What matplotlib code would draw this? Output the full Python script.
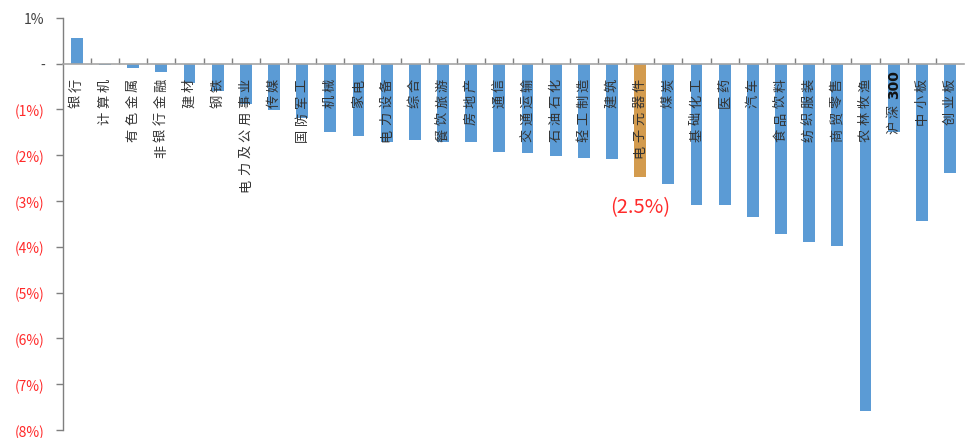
import matplotlib
matplotlib.use("Agg")
import matplotlib.pyplot as plt

plt.rcParams['font.family'] = ['Noto Sans CJK SC', 'DejaVu Sans']

# Weekly returns by industry and index (%)
categories = ["银行", "计算机", "有色金属", "非银行金融", "建材", "钢铁", "电力及公用事业",
              "传媒", "国防军工", "机械", "家电", "电力设备", "综合", "餐饮旅游", "房地产",
              "通信", "交通运输", "石油石化", "轻工制造", "建筑", "电子元器件", "煤炭",
              "基础化工", "医药", "汽车", "食品饮料", "纺织服装", "商贸零售", "农林牧渔",
              "沪深300", "中小板", "创业板"]
returns = [0.55, -0.02, -0.10, -0.19, -0.42, -0.60, -0.88,
           -1.02, -1.18, -1.49, -1.58, -1.70, -1.66, -1.71, -1.70,
           -1.92, -1.96, -2.01, -2.05, -2.09, -2.47, -2.63,
           -3.09, -3.09, -3.35, -3.72, -3.89, -3.97, -7.58,
           -1.50, -3.43, -2.39]
highlight = "电子元器件"
ytick_values = [1, 0, -1, -2, -3, -4, -5, -6, -7, -8]
ytick_labels = ["1%", "-", "(1%)", "(2%)", "(3%)", "(4%)", "(5%)", "(6%)", "(7%)", "(8%)"]

BLUE = "#5B9BD5"
ORANGE = "#D39B4E"
RED = "#FF2A2A"

W, H = 966, 439
fig = plt.figure(figsize=(W / 100, H / 100), dpi=100)
ax_rect = [0.065, 0.018, 0.933, 0.939]
ax = fig.add_axes(ax_rect)

x = list(range(len(categories)))
colors = [ORANGE if c == highlight else BLUE for c in categories]
ax.bar(x, returns, width=0.42, color=colors, zorder=2)

ymin, ymax = -8, 1
ax.set_xlim(-0.5, len(categories) - 0.5)
ax.set_ylim(ymin, ymax)

# spines: left axis plus a zero line
for s in ("top", "right"):
    ax.spines[s].set_visible(False)
ax.spines["bottom"].set_position(("data", 0))
ax.spines["bottom"].set_color("#A6A6A6")
ax.spines["bottom"].set_linewidth(1.2)
ax.spines["bottom"].set_zorder(3)
ax.spines["left"].set_color("#7F7F7F")
ax.spines["left"].set_linewidth(1.0)

ax.set_xticks([i + 0.5 for i in range(len(categories) - 1)])
ax.set_xticklabels([])
ax.tick_params(axis="x", direction="in", length=4, color="#7F7F7F", width=1)

ax.set_yticks(ytick_values)
ax.set_yticklabels(ytick_labels)
ax.tick_params(axis="y", direction="out", length=5, color="#7F7F7F", width=1,
               labelsize=10, pad=8)
for lbl, v in zip(ax.get_yticklabels(), ytick_values):
    lbl.set_color("#404040" if v >= 0 else RED)

# category names: rotated, letter-spaced, read bottom-to-top below the zero line
px_per_unit = ax_rect[3] * H / (ymax - ymin)
char_step = 16.7 / px_per_unit
digit_step = 26.0 / px_per_unit
start = -0.26


def tokens(name):
    out, buf = [], ""
    for ch in name:
        if ch.isascii():
            buf += ch
        else:
            if buf:
                out.append(buf)
                buf = ""
            out.append(ch)
    if buf:
        out.append(buf)
    return out


for i, name in enumerate(categories):
    y = start
    for tok in reversed(tokens(name)):
        step = digit_step if tok.isascii() else char_step
        center = y - step / 2
        if tok.isascii():
            ax.text(i, center + 0.1, tok, rotation=90, ha="center", va="center",
                    fontsize=10, fontweight="bold", color="#111111",
                    family=["DejaVu Sans"], zorder=4)
        else:
            ax.text(i, center, tok, rotation=90, ha="center", va="center",
                    fontsize=9.5, color="#333333", zorder=4,
                    rotation_mode="anchor")
        y -= step

# value callout for the highlighted industry
hi = categories.index(highlight)
hv = returns[hi]
ax.text(hi, hv - 0.42, f"({abs(hv):.1f}%)", ha="center", va="top",
        fontsize=14.5, color=RED, zorder=4)

fig.savefig("out.png", dpi=100)
